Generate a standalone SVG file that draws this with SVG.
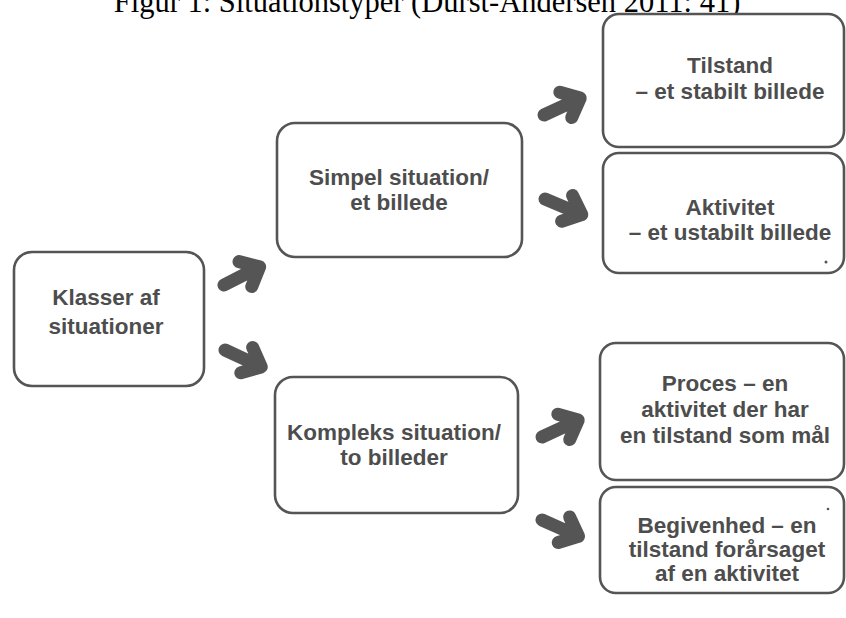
<svg xmlns="http://www.w3.org/2000/svg" width="846" height="618" viewBox="0 0 846 618">
<style>
.box{fill:#fff;stroke:#555;stroke-width:2.6}
.t{font-family:"Liberation Sans",Arial,sans-serif;font-weight:bold;font-size:22.5px;fill:#4d4d4d;text-anchor:middle}
.title{font-family:"Liberation Serif","Times New Roman",serif;font-size:30.5px;fill:#000;text-anchor:middle}
.arr{fill:none;stroke:#555;stroke-width:13;stroke-linecap:round;stroke-linejoin:round}
</style>
<defs>
<path id="arrow" class="arr" d="M0,0 H36 M24,-14 L40,0 L24,14"/>
</defs>
<rect width="846" height="618" fill="#fff"/>
<text class="title" x="427" y="12">Figur 1: Situationstyper (Durst-Andersen 2011: 41)</text>
<g id="connectors">
<use href="#arrow" transform="translate(224,285) rotate(-27)"/>
<use href="#arrow" transform="translate(225,350) rotate(25)"/>
<use href="#arrow" transform="translate(544,115) rotate(-25)"/>
<use href="#arrow" transform="translate(545,199) rotate(23)"/>
<use href="#arrow" transform="translate(542,437) rotate(-25)"/>
<use href="#arrow" transform="translate(542,520) rotate(24)"/>
</g>
<g id="klasser">
<rect class="box" x="14" y="252" width="190" height="134" rx="18"/>
<text class="t" x="106" y="305">Klasser af</text>
<text class="t" x="106" y="334">situationer</text>
</g>
<g id="simpel">
<rect class="box" x="277" y="123" width="245" height="134" rx="18"/>
<text class="t" x="399" y="185">Simpel situation/</text>
<text class="t" x="399" y="210">et billede</text>
</g>
<g id="kompleks">
<rect class="box" x="275" y="377" width="243" height="136" rx="18"/>
<text class="t" x="394" y="440">Kompleks situation/</text>
<text class="t" x="394" y="465">to billeder</text>
</g>
<g id="tilstand">
<rect class="box" x="603" y="14" width="241" height="133" rx="16"/>
<text class="t" x="730" y="73">Tilstand</text>
<text class="t" x="730" y="99">– et stabilt billede</text>
</g>
<g id="aktivitet">
<rect class="box" x="603" y="153" width="241" height="120" rx="16"/>
<text class="t" x="730" y="215">Aktivitet</text>
<text class="t" x="730" y="240">– et ustabilt billede</text>
<circle cx="826" cy="262" r="1.5" fill="#555"/>
</g>
<g id="proces">
<rect class="box" x="600" y="343" width="244" height="137" rx="16"/>
<text class="t" x="725" y="391">Proces – en</text>
<text class="t" x="725" y="417">aktivitet der har</text>
<text class="t" x="725" y="443">en tilstand som mål</text>
</g>
<g id="begivenhed">
<rect class="box" x="600" y="487" width="244" height="106" rx="16"/>
<text class="t" x="727" y="533">Begivenhed – en</text>
<text class="t" x="727" y="557">tilstand forårsaget</text>
<text class="t" x="727" y="581">af en aktivitet</text>
<circle cx="828" cy="509" r="1.3" fill="#555"/>
</g>
</svg>
